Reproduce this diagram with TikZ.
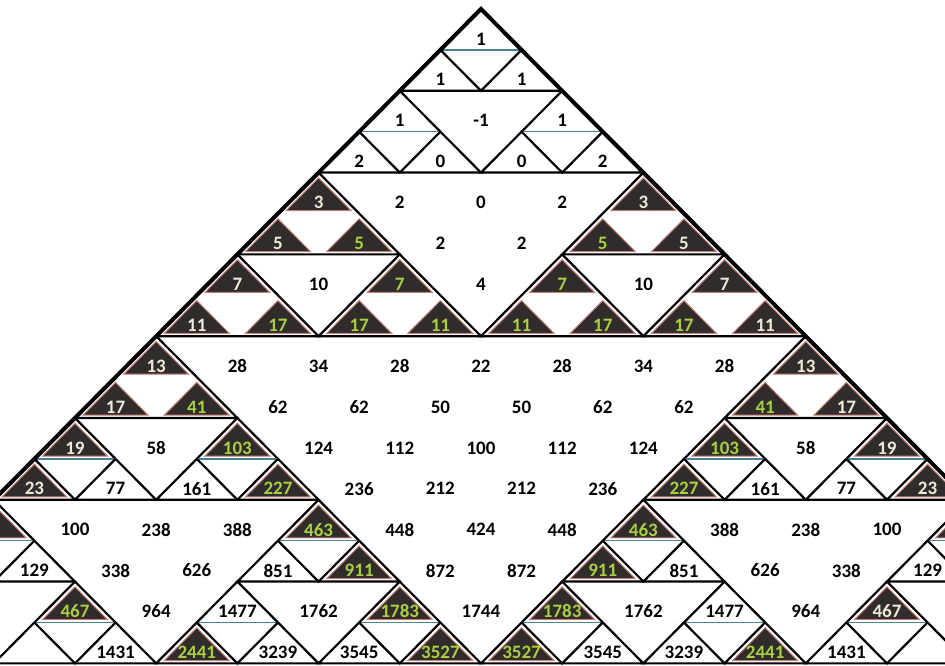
\documentclass[tikz,border=0pt]{standalone}
\usepackage{fontspec}
\setmainfont{Carlito}
\definecolor{cellink}{RGB}{48,44,44}
\definecolor{cellrim}{RGB}{196,128,118}
\definecolor{baseblue}{RGB}{72,128,148}
\definecolor{numgreen}{RGB}{168,208,64}
\definecolor{numlight}{RGB}{240,234,218}
\tikzset{
    edge/.style={line width=1.1pt, black},
    rim/.style={line width=2pt, black},
    thinbase/.style={line width=0.8pt, baseblue},
    darkcell/.style={fill=cellink, draw=cellrim, line width=0.5pt},
    num/.style={font=\fontsize{9.5}{10}\selectfont\bfseries, inner sep=0pt},
    numw/.style={num, text=black},
    numd/.style={num, text=numlight},
    numg/.style={num, text=numgreen}
}

\begin{document}
\begin{tikzpicture}[x=20.3pt, y=20.45pt]

\useasboundingbox (-11.847,-16.04) rectangle (11.429,0.22);
\clip (-11.847,-16.04) rectangle (11.429,0.22);

% two-row blocks
\foreach \r/\ks in {1/{0},3/{0,2},5/{0,4},7/{0,2,4,6},9/{0,8},
    11/{0,2,8,10},13/{0,4,8,12},15/{0,2,...,14}}{
  \foreach \k in \ks {
    \pgfmathsetmacro\cx{2*\k-\r+1}
    \draw[edge] (\cx,1-\r) -- (\cx-2,-1-\r) -- (\cx+2,-1-\r) -- cycle;
  }
}

% inner lines of the blocks that hold white cells
\foreach \r/\ks in {1/{0},3/{0,2},11/{0,2,8,10},13/{0,4,8,12},15/{0,2,...,14}}{
  \foreach \k in \ks {
    \pgfmathsetmacro\cx{2*\k-\r+1}
    \draw[thinbase] (\cx-1,-\r) -- (\cx+1,-\r);
    \draw[edge] (\cx-1,-\r) -- (\cx,-1-\r) -- (\cx+1,-\r);
  }
}

% dark cells
\foreach \n/\k in {5/0,5/4,6/0,6/1,6/4,6/5,7/0,7/2,7/4,7/6,
    8/0,8/1,8/2,8/3,8/4,8/5,8/6,8/7,9/0,9/8,10/0,10/1,10/8,10/9,
    11/0,11/2,11/8,11/10,12/0,12/3,12/8,12/11,13/0,13/4,13/8,13/12,
    14/5,14/8,15/2,15/6,15/8,15/12,16/4,16/7,16/8,16/11}{
  \pgfmathsetmacro\cx{2*\k-\n+1}
  \filldraw[darkcell] (\cx-0.8,0.07-\n) -- (\cx,0.87-\n) -- (\cx+0.8,0.07-\n) -- cycle;
}

\draw[rim] (-17,-17) -- (0,0) -- (17,-17);

% numbers
\foreach \n/\k/\v/\s in {1/0/1/numw,
    2/0/1/numw,2/1/1/numw,
    3/0/1/numw,3/1/-1/numw,3/2/1/numw,
    4/0/2/numw,4/1/0/numw,4/2/0/numw,4/3/2/numw,
    5/0/3/numd,5/1/2/numw,5/2/0/numw,5/3/2/numw,5/4/3/numd,
    6/0/5/numd,6/1/5/numg,6/2/2/numw,6/3/2/numw,6/4/5/numg,6/5/5/numd,
    7/0/7/numd,7/1/10/numw,7/2/7/numg,7/3/4/numw,7/4/7/numg,7/5/10/numw,7/6/7/numd,
    8/0/11/numd,8/1/17/numg,8/2/17/numg,8/3/11/numg,
    8/4/11/numg,8/5/17/numg,8/6/17/numg,8/7/11/numd,
    9/0/13/numd,9/1/28/numw,9/2/34/numw,9/3/28/numw,9/4/22/numw,
    9/5/28/numw,9/6/34/numw,9/7/28/numw,9/8/13/numd,
    10/0/17/numd,10/1/41/numg,10/2/62/numw,10/3/62/numw,10/4/50/numw,
    10/5/50/numw,10/6/62/numw,10/7/62/numw,10/8/41/numg,10/9/17/numd,
    11/0/19/numd,11/1/58/numw,11/2/103/numg,11/3/124/numw,11/4/112/numw,11/5/100/numw,
    11/6/112/numw,11/7/124/numw,11/8/103/numg,11/9/58/numw,11/10/19/numd,
    12/0/23/numd,12/1/77/numw,12/2/161/numw,12/3/227/numg,12/4/236/numw,12/5/212/numw,
    12/6/212/numw,12/7/236/numw,12/8/227/numg,12/9/161/numw,12/10/77/numw,12/11/23/numd,
    13/1/100/numw,13/2/238/numw,13/3/388/numw,13/4/463/numg,13/5/448/numw,13/6/424/numw,
    13/7/448/numw,13/8/463/numg,13/9/388/numw,13/10/238/numw,13/11/100/numw,
    14/1/129/numw,14/2/338/numw,14/3/626/numw,14/4/851/numw,14/5/911/numg,14/6/872/numw,
    14/7/872/numw,14/8/911/numg,14/9/851/numw,14/10/626/numw,14/11/338/numw,14/12/129/numw,
    15/2/467/numg,15/3/964/numw,15/4/1477/numw,15/5/1762/numw,15/6/1783/numg,15/7/1744/numw,
    15/8/1783/numg,15/9/1762/numw,15/10/1477/numw,15/11/964/numw,15/12/467/numd,
    16/3/1431/numw,16/4/2441/numg,16/5/3239/numw,16/6/3545/numw,16/7/3527/numg,
    16/8/3527/numg,16/9/3545/numw,16/10/3239/numw,16/11/2441/numg,16/12/1431/numw}{
  \pgfmathsetmacro\cx{2*\k-\n+1}
  \node[\s] (c\n-\k) at (\cx,0.27-\n) {\v};
}

\end{tikzpicture}
\end{document}
